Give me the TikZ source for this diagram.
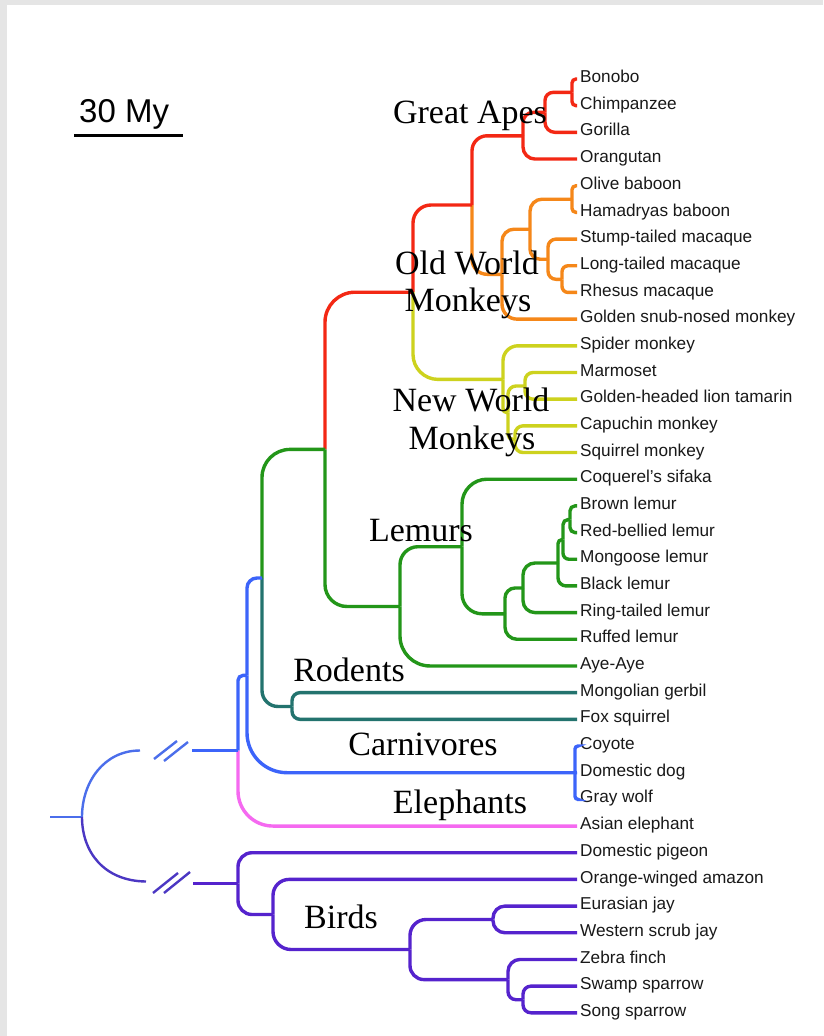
\documentclass[tikz,border=0pt]{standalone}
\usepackage{fontspec}
\setmainfont{Liberation Serif}
\setsansfont{Liberation Sans}
\usetikzlibrary{calc}

\definecolor{apered}{RGB}{243,40,20}
\definecolor{owmorange}{RGB}{245,135,25}
\definecolor{nwmyellow}{RGB}{205,210,30}
\definecolor{lemgreen}{RGB}{35,150,25}
\definecolor{rodteal}{RGB}{35,115,110}
\definecolor{mamblue}{RGB}{60,100,250}
\definecolor{elepink}{RGB}{245,105,240}
\definecolor{birdpurple}{RGB}{85,35,205}
\definecolor{rootblue}{RGB}{75,110,235}
\definecolor{rootpurple}{RGB}{75,55,195}

\tikzset{
  br/.style={line width=3.4pt},
  thinbr/.style={line width=2.4pt},
  leaf/.style={anchor=west, inner sep=3pt, text height=0.72em, text depth=0pt,
               font=\sffamily\fontsize{17.2}{19}\selectfont, text=black!90},
  clade/.style={anchor=base, inner sep=0pt, font=\fontsize{34}{36}\selectfont},
}

\begin{document}
\begin{tikzpicture}[x=1pt, y=-1pt]
    \fill[gray!20] (0,0) rectangle (823,1036);
    \fill[white] (7,5) rectangle (823,1036);
    \useasboundingbox (0,0) rectangle (823,1036);

    % scale bar
    \node[anchor=base west, inner sep=0pt, font=\sffamily\fontsize{33}{36}\selectfont] (scale) at (79,122) {30 My};
    \draw[line width=3pt] (74,135) -- (183,135);

    % taxa
    \foreach \nm/\txt [count=\i from 0] in {bonobo/Bonobo, chimp/Chimpanzee, gorilla/Gorilla,
        orangutan/Orangutan, olive/Olive baboon, hamadryas/Hamadryas baboon,
        stump/Stump-tailed macaque, longtail/Long-tailed macaque, rhesus/Rhesus macaque,
        snubnose/Golden snub-nosed monkey, spider/Spider monkey, marmoset/Marmoset,
        tamarin/Golden-headed lion tamarin, capuchin/Capuchin monkey, squirrelm/Squirrel monkey,
        sifaka/Coquerel's sifaka, brown/Brown lemur, redbellied/Red-bellied lemur,
        mongoose/Mongoose lemur, black/Black lemur, ringtail/Ring-tailed lemur,
        ruffed/Ruffed lemur, ayeaye/Aye-Aye, gerbil/Mongolian gerbil, foxsq/Fox squirrel,
        coyote/Coyote, dog/Domestic dog, wolf/Gray wolf, elephant/Asian elephant,
        pigeon/Domestic pigeon, amazon/Orange-winged amazon, eujay/Eurasian jay,
        scrubjay/Western scrub jay, zebra/Zebra finch, swamp/Swamp sparrow, song/Song sparrow}
        \node[leaf] (\nm) at ({577},{79+26.68*\i}) {\txt};

    % internal nodes
    \coordinate (bc) at (572,92.4);
    \coordinate (bcg) at (545,112.4);
    \coordinate (hominid) at (523,135.8);
    \coordinate (papio) at (572,199.2);
    \coordinate (maclr) at (562,279.3);
    \coordinate (macaca) at (548,259.2);
    \coordinate (papionini) at (530,229.2);
    \coordinate (owm) at (502,274.3);
    \coordinate (catarrhini) at (472,205);
    \coordinate (mt) at (525,386);
    \coordinate (cs) at (515,439.5);
    \coordinate (cebidae) at (508,412.7);
    \coordinate (nwm) at (503,379.4);
    \coordinate (anthropoid) at (413,292.2);
    \coordinate (eulemurA) at (570,519.6);
    \coordinate (eulemurB) at (563,539.6);
    \coordinate (eulemur) at (558,563);
    \coordinate (lemurinae) at (523,588);
    \coordinate (lemuridae) at (505,613.8);
    \coordinate (lemuriformes) at (462,546.7);
    \coordinate (strep) at (400,606.5);
    \coordinate (primates) at (325,449.4);
    \coordinate (rodents) at (292,706.5);
    \coordinate (euarch) at (262,578);
    \coordinate (carniv) at (575,772.7);
    \coordinate (boreo) at (247,675.4);
    \coordinate (eutheria) at (238,750.5);
    \coordinate (sparrow) at (523,999.7);
    \coordinate (finch) at (508,979.6);
    \coordinate (corvid) at (493,919.5);
    \coordinate (passeri) at (410,949.5);
    \coordinate (neoaves) at (273,914.5);
    \coordinate (neognath) at (238,883.5);
    \coordinate (cutA) at (192,750.5);
    \coordinate (cutB) at (193,883.5);
    \coordinate (root) at (82,817);
    \coordinate (rootstub) at (50,817);

    % great apes
    \draw[br, apered, rounded corners=4pt] (bc) |- (bonobo.west);
    \draw[br, apered, rounded corners=4pt] (bc) |- (chimp.west);
    \draw[br, apered, rounded corners=8pt] (bcg) |- (bc);
    \draw[br, apered, rounded corners=10pt] (bcg) |- (gorilla.west);
    \draw[br, apered, rounded corners=10pt] (hominid) |- (bcg);
    \draw[br, apered, rounded corners=12pt] (hominid) |- (orangutan.west);
    \draw[br, apered, rounded corners=15pt] (catarrhini) |- (hominid);

    % old world monkeys
    \draw[br, owmorange, rounded corners=15pt] (catarrhini) |- (owm);
    \draw[br, owmorange, rounded corners=12pt] (owm) |- (papionini);
    \draw[br, owmorange, rounded corners=15pt] (owm) |- (snubnose.west);
    \draw[br, owmorange, rounded corners=12pt] (papionini) |- (papio);
    \draw[br, owmorange, rounded corners=10pt] (papionini) |- (macaca);
    \draw[br, owmorange, rounded corners=4pt] (papio) |- (olive.west);
    \draw[br, owmorange, rounded corners=4pt] (papio) |- (hamadryas.west);
    \draw[br, owmorange, rounded corners=8pt] (macaca) |- (stump.west);
    \draw[br, owmorange, rounded corners=8pt] (macaca) |- (maclr);
    \draw[br, owmorange, rounded corners=6pt] (maclr) |- (longtail.west);
    \draw[br, owmorange, rounded corners=6pt] (maclr) |- (rhesus.west);

    % new world monkeys
    \draw[br, apered, rounded corners=18pt] (anthropoid) |- (catarrhini);
    \draw[br, nwmyellow, rounded corners=25pt] (anthropoid) |- (nwm);
    \draw[br, nwmyellow, rounded corners=15pt] (nwm) |- (spider.west);
    \draw[br, nwmyellow, rounded corners=4pt] (nwm) |- (cebidae);
    \draw[br, nwmyellow, rounded corners=8pt] (cebidae) |- (mt);
    \draw[br, nwmyellow, rounded corners=5pt] (cebidae) |- (cs);
    \draw[br, nwmyellow, rounded corners=8pt] (mt) |- (marmoset.west);
    \draw[br, nwmyellow, rounded corners=8pt] (mt) |- (tamarin.west);
    \draw[br, nwmyellow, rounded corners=8pt] (cs) |- (capuchin.west);
    \draw[br, nwmyellow, rounded corners=8pt] (cs) |- (squirrelm.west);

    % primates and lemurs
    \draw[br, apered, rounded corners=30pt] (primates) |- (anthropoid);
    \draw[br, lemgreen, rounded corners=22pt] (primates) |- (strep);
    \draw[br, lemgreen, rounded corners=18pt] (strep) |- (lemuriformes);
    \draw[br, lemgreen, rounded corners=30pt] (strep) |- (ayeaye.west);
    \draw[br, lemgreen, rounded corners=25pt] (lemuriformes) |- (sifaka.west);
    \draw[br, lemgreen, rounded corners=20pt] (lemuriformes) |- (lemuridae);
    \draw[br, lemgreen, rounded corners=10pt] (lemuridae) |- (lemurinae);
    \draw[br, lemgreen, rounded corners=12pt] (lemuridae) |- (ruffed.west);
    \draw[br, lemgreen, rounded corners=12pt] (lemurinae) |- (eulemur);
    \draw[br, lemgreen, rounded corners=12pt] (lemurinae) |- (ringtail.west);
    \draw[br, lemgreen, rounded corners=4pt] (eulemur) |- (eulemurB);
    \draw[br, lemgreen, rounded corners=8pt] (eulemur) |- (black.west);
    \draw[br, lemgreen, rounded corners=5pt] (eulemurB) |- (eulemurA);
    \draw[br, lemgreen, rounded corners=6pt] (eulemurB) |- (mongoose.west);
    \draw[br, lemgreen, rounded corners=5pt] (eulemurA) |- (brown.west);
    \draw[br, lemgreen, rounded corners=5pt] (eulemurA) |- (redbellied.west);

    % rodents, carnivores, elephants
    \draw[br, lemgreen, rounded corners=28pt] (euarch) |- (primates);
    \draw[br, rodteal, rounded corners=16pt] (euarch) |- (rodents);
    \draw[br, rodteal, rounded corners=8pt] (rodents) |- (gerbil.west);
    \draw[br, rodteal, rounded corners=8pt] (rodents) |- (foxsq.west);
    \draw[br, mamblue, rounded corners=10pt] (boreo) |- (euarch);
    \draw[br, mamblue, rounded corners=40pt] (boreo) |- (carniv);
    \draw[br, mamblue, rounded corners=3pt] (carniv) |- (coyote.west);
    \draw[br, mamblue] (carniv) -- (dog.west);
    \draw[br, mamblue, rounded corners=3pt] (carniv) |- (wolf.west);
    \draw[br, mamblue, rounded corners=5pt] (eutheria) |- (boreo);
    \draw[br, elepink, rounded corners=35pt] (eutheria) |- (elephant.west);
    \draw[thinbr, mamblue] (cutA) -- (eutheria);

    % birds
    \draw[br, birdpurple, rounded corners=14pt] (neognath) |- (pigeon.west);
    \draw[br, birdpurple, rounded corners=14pt] (neognath) |- (neoaves);
    \draw[br, birdpurple, rounded corners=16pt] (neoaves) |- (amazon.west);
    \draw[br, birdpurple, rounded corners=18pt] (neoaves) |- (passeri);
    \draw[br, birdpurple, rounded corners=16pt] (passeri) |- (corvid);
    \draw[br, birdpurple, rounded corners=14pt] (passeri) |- (finch);
    \draw[br, birdpurple, rounded corners=12pt] (corvid) |- (eujay.west);
    \draw[br, birdpurple, rounded corners=12pt] (corvid) |- (scrubjay.west);
    \draw[br, birdpurple, rounded corners=12pt] (finch) |- (zebra.west);
    \draw[br, birdpurple, rounded corners=8pt] (finch) |- (sparrow);
    \draw[br, birdpurple, rounded corners=8pt] (sparrow) |- (swamp.west);
    \draw[br, birdpurple, rounded corners=8pt] (sparrow) |- (song.west);
    \draw[thinbr, birdpurple] (cutB) -- (neognath);

    % root and broken branches
    \draw[thinbr, rootblue] (rootstub) -- (root);
    \draw[thinbr, rootblue] (root) .. controls (82,782) and (104,750.5) .. (140,750.5);
    \draw[thinbr, rootpurple] (root) .. controls (82,852) and (104,881) .. (146,881.5);
    \draw[thinbr, rootblue] (154,759) -- (177,741);
    \draw[thinbr, rootblue] (164,761) -- (188,742);
    \draw[thinbr, rootpurple] (153,893) -- (178,873);
    \draw[thinbr, rootpurple] (164,893) -- (190,872);

    % clade labels
    \node[clade] (greatapes) at (470,123) {Great Apes};
    \node[clade] (oldworld) at (467,274) {Old World};
    \node[clade] (oldmonkeys) at (468,311) {Monkeys};
    \node[clade] (newworld) at (471,411) {New World};
    \node[clade] (newmonkeys) at (472,449) {Monkeys};
    \node[clade] (lemurs) at (421,541) {Lemurs};
    \node[clade] (rodentlab) at (349,681) {Rodents};
    \node[clade] (carnivlab) at (423,755) {Carnivores};
    \node[clade] (elephlab) at (460,813) {Elephants};
    \node[clade] (birds) at (341,928) {Birds};
\end{tikzpicture}
\end{document}
